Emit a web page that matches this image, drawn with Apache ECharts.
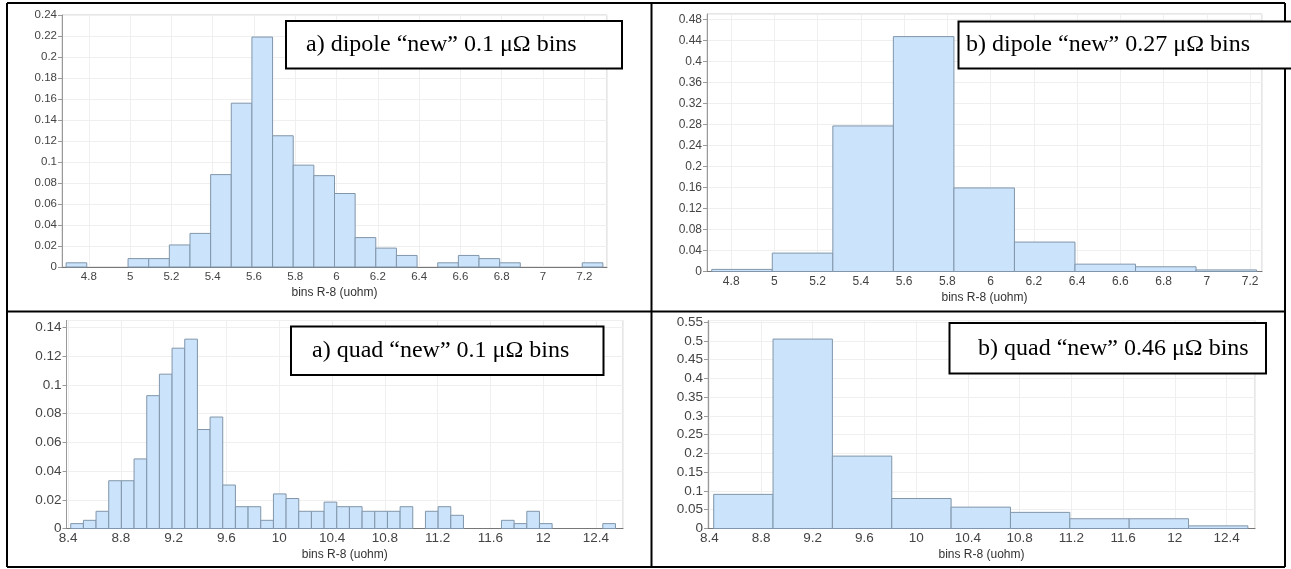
<!DOCTYPE html>
<html>
<head>
<meta charset="utf-8">
<script src="https://cdn.jsdelivr.net/npm/echarts@6/dist/echarts.min.js"></script>
<style>
  html, body { margin: 0; padding: 0; background: #fff; }
  #chart { width: 1291px; height: 569px; }
</style>
</head>
<body>
<div id="chart"></div>
<script>
// Histograms of R-8 resistance (uohm): dipoles (top) and quads (bottom),
// each with a fine and a coarse binning. Values are bin fractions.
const axisName = 'bins R-8 (uohm)';

const dipoleFineStart = 4.69;
const dipoleFineWidth = 0.1;
const dipoleFineValues = [0.004, 0, 0, 0.008, 0.008, 0.021, 0.032, 0.088, 0.156, 0.219,
  0.125, 0.097, 0.087, 0.070, 0.028, 0.018, 0.011, 0, 0.004, 0.011,
  0.008, 0.004, 0, 0, 0, 0.004];

const dipoleCoarseStart = 4.71;
const dipoleCoarseWidth = 0.28;
const dipoleCoarseValues = [0.004, 0.035, 0.277, 0.447, 0.159, 0.056, 0.014, 0.009, 0.003];

const quadFineStart = 8.42;
const quadFineWidth = 0.096;
const quadFineValues = [0.0034, 0.0057, 0.012, 0.0333, 0.0333, 0.0485, 0.0926, 0.1076, 0.1257, 0.132,
  0.069, 0.0777, 0.0303, 0.0152, 0.0152, 0.0057, 0.0241, 0.0209, 0.012, 0.012,
  0.0184, 0.0152, 0.0152, 0.012, 0.012, 0.012, 0.0152, 0, 0.012, 0.0152,
  0.0092, 0, 0, 0, 0.0057, 0.0034, 0.012, 0.0034, 0, 0, 0, 0, 0.0034];

const quadCoarseStart = 8.434;
const quadCoarseWidth = 0.459;
const quadCoarseValues = [0.091, 0.505, 0.193, 0.080, 0.057, 0.043, 0.026, 0.026, 0.007];

const panelTitles = [
  'a) dipole \u201Cnew\u201D 0.1 \u03BC\u03A9 bins',
  'b) dipole \u201Cnew\u201D 0.27 \u03BC\u03A9 bins',
  'a) quad \u201Cnew\u201D 0.1 \u03BC\u03A9 bins',
  'b) quad \u201Cnew\u201D 0.46 \u03BC\u03A9 bins'
];

// [binLeft, binRight, fraction] rows for the custom histogram series
function histogramRows(start, width, values) {
  return values.map((v, i) => [start + i * width, start + (i + 1) * width, v]);
}

const BAR_FILL = '#cbe3fb';
const BAR_EDGE = '#8196aa';
const SANS = '"Liberation Sans", Arial, sans-serif';

function renderBin(params, api) {
  const v = api.value(2);
  if (!(v > 0)) return null;
  const topLeft = api.coord([api.value(0), v]);
  const bottomRight = api.coord([api.value(1), 0]);
  return {
    type: 'rect',
    shape: {
      x: topLeft[0], y: topLeft[1],
      width: bottomRight[0] - topLeft[0],
      height: bottomRight[1] - topLeft[1]
    },
    style: { fill: BAR_FILL, stroke: BAR_EDGE, lineWidth: 1 }
  };
}

const panels = [
  { grid: { left: 62, top: 15, width: 545, height: 252 },
    x: [4.67, 7.31, 0.2], y: [0.24, 0.02], font: 11.5,
    rows: histogramRows(dipoleFineStart, dipoleFineWidth, dipoleFineValues) },
  { grid: { left: 707, top: 14, width: 555, height: 257.5 },
    x: [4.688, 7.255, 0.2], y: [0.49, 0.04], font: 12,
    rows: histogramRows(dipoleCoarseStart, dipoleCoarseWidth, dipoleCoarseValues) },
  { grid: { left: 66.5, top: 320.5, width: 556.5, height: 208 },
    x: [8.388, 12.605, 0.4], y: [0.145, 0.02], font: 13.5,
    rows: histogramRows(quadFineStart, quadFineWidth, quadFineValues) },
  { grid: { left: 708, top: 320.5, width: 547, height: 208 },
    x: [8.39, 12.62, 0.4], y: [0.5545, 0.05], font: 13.5,
    rows: histogramRows(quadCoarseStart, quadCoarseWidth, quadCoarseValues) }
];

const grids = panels.map(p => Object.assign({
  show: true, borderColor: '#cdcdcd', borderWidth: 1, backgroundColor: '#fff'
}, p.grid));

const xAxes = panels.map((p, i) => ({
  type: 'value', gridIndex: i,
  min: p.x[0], max: p.x[1], minInterval: p.x[2], maxInterval: p.x[2],
  name: axisName, nameLocation: 'middle', nameGap: p.font > 13 ? 20 : 20,
  nameTextStyle: { fontFamily: SANS, fontSize: 12, color: '#333' },
  axisLine: { show: true, onZero: false, lineStyle: { color: '#777', width: 1 } },
  axisTick: { show: false },
  axisLabel: { showMinLabel: false, showMaxLabel: false, margin: p.font > 13 ? 3 : 4,
    fontFamily: SANS, fontSize: p.font, color: '#444' },
  splitLine: { show: true, lineStyle: { color: '#efefef', width: 1 } }
}));

const yAxes = panels.map((p, i) => ({
  type: 'value', gridIndex: i,
  min: 0, max: p.y[0], interval: p.y[1],
  axisLine: { show: true, lineStyle: { color: '#999', width: 1 } },
  axisTick: { show: true, length: 4, lineStyle: { color: '#999' } },
  axisLabel: { showMaxLabel: Math.abs(p.y[0] / p.y[1] - Math.round(p.y[0] / p.y[1])) < 1e-6,
    margin: 5, fontFamily: SANS, fontSize: p.font, color: '#444' },
  splitLine: { show: true, lineStyle: { color: '#efefef', width: 1 } }
}));

const series = panels.map((p, i) => ({
  type: 'custom', xAxisIndex: i, yAxisIndex: i,
  data: p.rows, encode: { x: [0, 1], y: 2 },
  renderItem: renderBin, silent: true, animation: false
}));

// Table rules framing the four panels
const RULE = { stroke: '#000', lineWidth: 2 };
const rules = [
  [7, 3, 1285, 3], [7, 567, 1285, 567], [7, 3, 7, 567], [1285, 3, 1285, 567],
  [7, 311.5, 1285, 311.5], [651.5, 3, 651.5, 567]
].map(r => ({ type: 'line', z: 50, silent: true,
  shape: { x1: r[0], y1: r[1], x2: r[2], y2: r[3] }, style: RULE }));

// Boxed panel captions
const captionBoxes = [
  { box: [286, 21, 336, 47.5], text: [306, 45] },
  { box: [958.5, 21.5, 345, 47], text: [966, 45] },
  { box: [291, 326.5, 312.5, 48.5], text: [312, 351] },
  { box: [949.5, 323, 316.5, 50.5], text: [978, 348.5] }
];
const captions = captionBoxes.map((c, i) => ({
  type: 'group', z: 100, silent: true,
  children: [
    { type: 'rect', z: 100,
      shape: { x: c.box[0], y: c.box[1], width: c.box[2], height: c.box[3] },
      style: { fill: '#fff', stroke: '#000', lineWidth: 2 } },
    { type: 'text', z: 101,
      style: { text: panelTitles[i], x: c.text[0], y: c.text[1],
        font: '24px "Liberation Serif", "Times New Roman", serif', fill: '#000',
        align: 'left', verticalAlign: 'middle', textAlign: 'left', textVerticalAlign: 'middle' } }
  ]
}));

const chart = echarts.init(document.getElementById('chart'), null, { renderer: 'canvas' });
chart.setOption({
  animation: false,
  backgroundColor: '#fff',
  grid: grids,
  xAxis: xAxes,
  yAxis: yAxes,
  series: series,
  graphic: { elements: rules.concat(captions) }
});
</script>
</body>
</html>
